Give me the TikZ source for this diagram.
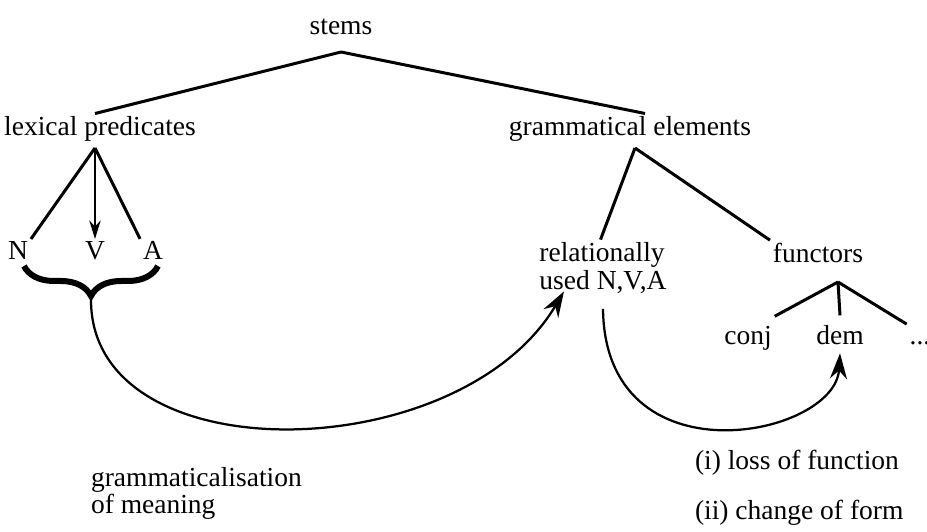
\documentclass[tikz,border=0pt]{standalone}
\usepackage{fontspec}
\setmainfont{Liberation Serif}
\usetikzlibrary{arrows.meta,calc,decorations.pathreplacing}

\begin{document}
\begin{tikzpicture}[
    x=0.4pt,y=-0.4pt,
    word/.style={font=\fontsize{11}{11}\selectfont,inner sep=1pt},
    leaf/.style={word,anchor=base},
    branch/.style={line width=1.2pt},
    arrow/.style={-{Stealth[length=3.6mm,width=2.4mm]},line width=0.9pt}
  ]
  \useasboundingbox (0,0) rectangle (927,532);

  % top of the tree
  \node[word] (stems) at (341,27) {stems};
  \node[word] (lex) at (100,129) {lexical predicates};
  \node[word] (gram) at (630,129) {grammatical elements};
  \coordinate (stemroot) at (341,52);
  \draw[branch] (stemroot) -- ([xshift=-2pt]lex.north);
  \draw[branch] (stemroot) -- ([xshift=6pt]gram.north);

  % lexical side
  \node[leaf] (N) at (18,260) {N};
  \node[leaf] (V) at (95,260) {V};
  \node[leaf] (A) at (153,260) {A};
  \coordinate (lexroot) at (95,148);
  \draw[branch] (lexroot) -- (N.north east);
  \draw[-{Stealth[length=2.6mm,width=1.6mm]},line width=0.8pt] (lexroot) -- (V.north);
  \draw[branch] (lexroot) -- (A.north west);
  \draw[decorate,decoration={brace,mirror,amplitude=12pt},line width=2.4pt]
    (24,266) -- (158,266);
  \coordinate (bracetip) at (91,300);

  % grammatical side
  \node[word,align=left] (rel) at (603,268) {relationally\\used N,V,A};
  \node[word] (functors) at (818,253) {functors};
  \coordinate (gramroot) at (635,148);
  \draw[branch] (gramroot) -- ([xshift=-1pt]rel.north);
  \draw[branch] (gramroot) -- (functors.north west);

  \node[leaf] (conj) at (748,345) {conj};
  \node[leaf] (dem) at (840,345) {dem};
  \node[leaf] (dots) at (920,345) {...};
  \coordinate (funcroot) at (838,282);
  \draw[branch] (funcroot) -- ([yshift=3pt]conj.north east);
  \draw[branch] (funcroot) -- ([yshift=3pt]dem.north);
  \draw[branch] (funcroot) -- ([yshift=6pt]dots.north west);

  % processes
  \draw[arrow] (bracetip) .. controls +(0,175) and +(-105,177) .. ([xshift=11pt,yshift=2pt]rel.south west);
  \draw[arrow] ([yshift=-5pt]rel.south) .. controls +(2,175) and +(-5,84) .. ([yshift=-2pt]dem.south);

  \node[word,align=left,anchor=north west] (meaning) at (88,464) {grammaticalisation\\of meaning};
  \node[word,anchor=west] (loss) at (692,463) {(i) loss of function};
  \node[word,anchor=west] (form) at (692,513) {(ii) change of form};
\end{tikzpicture}
\end{document}
